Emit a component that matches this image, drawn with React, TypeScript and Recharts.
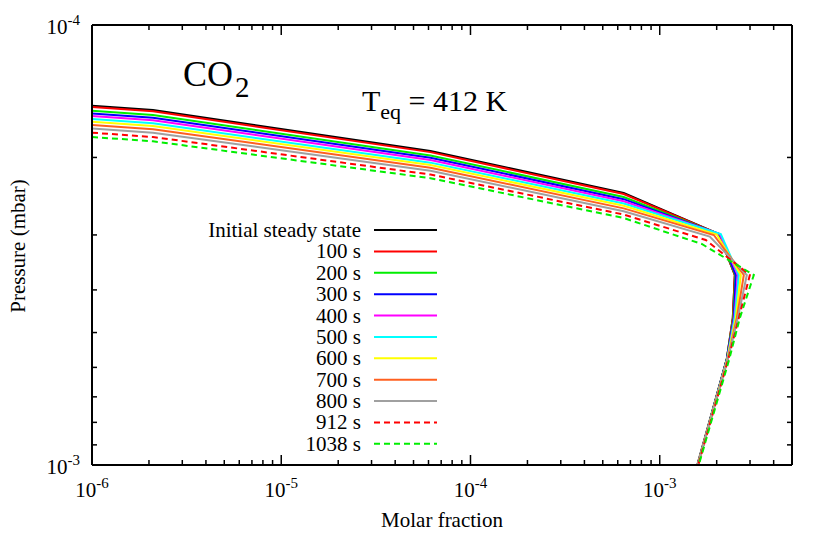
import React from 'react';
import { LineChart, Line, XAxis, YAxis, Legend } from 'recharts';

const FONT = "'Liberation Serif', Tinos, 'Times New Roman', Times, 'DejaVu Serif', serif";

// Molar fraction (x) and pressure in mbar (p) for each profile
const X_INIT = [1e-6, 2.1e-6, 6.14e-5, 6.45e-4, 2.052e-3, 2.493e-3, 2.433e-3, 2.262e-3, 1.579e-3];
const P_INIT = [1.525e-4, 1.56e-4, 1.934e-4, 2.409e-4, 2.985e-4, 3.7e-4, 4.634e-4, 5.742e-4, 1e-3];

const X_100 = [1e-6, 2.1e-6, 6.14e-5, 6.45e-4, 2.052e-3, 2.493e-3, 2.433e-3, 2.262e-3, 1.589e-3];
const P_100 = [1.536e-4, 1.571e-4, 1.945e-4, 2.422e-4, 2.985e-4, 3.7e-4, 4.634e-4, 5.742e-4, 1e-3];

const X_200 = [1e-6, 2.1e-6, 6.14e-5, 6.45e-4, 2.052e-3, 2.509e-3, 2.448e-3, 2.262e-3, 1.589e-3];
const P_200 = [1.566e-4, 1.602e-4, 1.979e-4, 2.46e-4, 2.985e-4, 3.7e-4, 4.634e-4, 5.742e-4, 1e-3];

const X_300 = [1e-6, 2.1e-6, 6.14e-5, 6.45e-4, 2.065e-3, 2.524e-3, 2.463e-3, 2.262e-3, 1.589e-3];
const P_300 = [1.588e-4, 1.624e-4, 2.003e-4, 2.488e-4, 2.985e-4, 3.7e-4, 4.634e-4, 5.742e-4, 1e-3];

const X_400 = [1e-6, 2.1e-6, 6.14e-5, 6.45e-4, 2.077e-3, 2.586e-3, 2.479e-3, 2.276e-3, 1.589e-3];
const P_400 = [1.61e-4, 1.647e-4, 2.027e-4, 2.515e-4, 2.985e-4, 3.7e-4, 4.634e-4, 5.742e-4, 1e-3];

const X_500 = [1e-6, 2.1e-6, 6.14e-5, 6.45e-4, 2.103e-3, 2.618e-3, 2.493e-3, 2.276e-3, 1.589e-3];
const P_500 = [1.636e-4, 1.673e-4, 2.055e-4, 2.546e-4, 2.985e-4, 3.7e-4, 4.634e-4, 5.742e-4, 1e-3];

const X_600 = [1e-6, 2.1e-6, 6.14e-5, 6.45e-4, 2.003e-3, 2.683e-3, 2.524e-3, 2.276e-3, 1.589e-3];
const P_600 = [1.659e-4, 1.697e-4, 2.08e-4, 2.576e-4, 2.993e-4, 3.7e-4, 4.634e-4, 5.742e-4, 1e-3];

const X_700 = [1e-6, 2.1e-6, 6.14e-5, 6.45e-4, 1.931e-3, 2.782e-3, 2.555e-3, 2.29e-3, 1.589e-3];
const P_700 = [1.688e-4, 1.726e-4, 2.111e-4, 2.611e-4, 3.001e-4, 3.7e-4, 4.634e-4, 5.742e-4, 1e-3];

const X_800 = [1e-6, 2.1e-6, 6.14e-5, 6.45e-4, 1.839e-3, 2.886e-3, 2.586e-3, 2.29e-3, 1.589e-3];
const P_800 = [1.718e-4, 1.757e-4, 2.144e-4, 2.65e-4, 3.025e-4, 3.7e-4, 4.634e-4, 5.742e-4, 1e-3];

const X_912 = [1e-6, 2.1e-6, 6.14e-5, 6.45e-4, 1.751e-3, 2.994e-3, 2.618e-3, 2.304e-3, 1.598e-3];
const P_912 = [1.757e-4, 1.797e-4, 2.187e-4, 2.697e-4, 3.081e-4, 3.7e-4, 4.634e-4, 5.742e-4, 1e-3];

const X_1038 = [1e-6, 2.1e-6, 6.14e-5, 6.45e-4, 1.668e-3, 3.143e-3, 2.65e-3, 2.332e-3, 1.608e-3];
const P_1038 = [1.797e-4, 1.838e-4, 2.229e-4, 2.746e-4, 3.146e-4, 3.7e-4, 4.634e-4, 5.742e-4, 1e-3];

const SERIES_NAMES = ['Initial steady state', '100 s', '200 s', '300 s', '400 s', '500 s', '600 s', '700 s', '800 s', '912 s', '1038 s'];
const SERIES_COLORS = ['#000000', '#ff0000', '#00ee00', '#0000ff', '#ff00ff', '#00ffff', '#ffff00', '#ff6020', '#a0a0a0', '#ff0000', '#00ee00'];
const SERIES_DASHED = [false, false, false, false, false, false, false, false, false, true, true];
const SERIES_X = [X_INIT, X_100, X_200, X_300, X_400, X_500, X_600, X_700, X_800, X_912, X_1038];
const SERIES_P = [P_INIT, P_100, P_200, P_300, P_400, P_500, P_600, P_700, P_800, P_912, P_1038];

const X_DOMAIN = [1e-6, 5e-3];
const Y_DOMAIN = [1e-4, 1e-3];
const X_MAJOR = [1e-6, 1e-5, 1e-4, 1e-3];
const X_MINOR = [2e-6, 3e-6, 4e-6, 5e-6, 6e-6, 7e-6, 8e-6, 9e-6, 2e-5, 3e-5, 4e-5, 5e-5, 6e-5, 7e-5, 8e-5, 9e-5, 2e-4, 3e-4, 4e-4, 5e-4, 6e-4, 7e-4, 8e-4, 9e-4, 2e-3, 3e-3, 4e-3];
const Y_MAJOR = [1e-4, 1e-3];
const Y_MINOR = [2e-4, 3e-4, 4e-4, 5e-4, 6e-4, 7e-4, 8e-4, 9e-4];

const X_TICKS = [...X_MAJOR, ...X_MINOR].sort((a, b) => a - b);
const Y_TICKS = [...Y_MAJOR, ...Y_MINOR].sort((a, b) => a - b);

const SERIES = SERIES_NAMES.map((name, i) => ({
  name,
  color: SERIES_COLORS[i],
  dash: SERIES_DASHED[i] ? '6 4' : undefined,
  data: SERIES_X[i].map((x, j) => ({ x, p: SERIES_P[i][j] })),
}));

const isMajor = (v: number, majors: number[]) => majors.some((m) => Math.abs(v / m - 1) < 1e-6);
const expOf = (v: number) => String(Math.round(Math.log10(v)));

const MAJOR_LEN = 10;
const MINOR_LEN = 5;
const TXT = { fontFamily: FONT };

const Pow = ({ x, y, v, anchor }: { x: number; y: number; v: number; anchor: string }) => (
  <text x={x} y={y} textAnchor={anchor} style={TXT} fontSize={21} fill="#000">
    <tspan>10</tspan>
    <tspan dy={-9} fontSize={15}>{expOf(v)}</tspan>
  </text>
);

const BottomTick = (props: any) => {
  const { x, y, payload } = props;
  const major = isMajor(payload.value, X_MAJOR);
  return (
    <g>
      <line x1={x} y1={y} x2={x} y2={y - (major ? MAJOR_LEN : MINOR_LEN)} stroke="#000" strokeWidth={1.5} />
      {major && <Pow x={x} y={y + 32} v={payload.value} anchor="middle" />}
    </g>
  );
};

const TopTick = (props: any) => {
  const { x, y, payload } = props;
  const major = isMajor(payload.value, X_MAJOR);
  return <line x1={x} y1={y} x2={x} y2={y + (major ? MAJOR_LEN : MINOR_LEN)} stroke="#000" strokeWidth={1.5} />;
};

const LeftTick = (props: any) => {
  const { x, y, payload } = props;
  const major = isMajor(payload.value, Y_MAJOR);
  return (
    <g>
      <line x1={x} y1={y} x2={x + (major ? MAJOR_LEN : MINOR_LEN)} y2={y} stroke="#000" strokeWidth={1.5} />
      {major && <Pow x={x - 12} y={y + 9} v={payload.value} anchor="end" />}
    </g>
  );
};

const RightTick = (props: any) => {
  const { x, y, payload } = props;
  const major = isMajor(payload.value, Y_MAJOR);
  return <line x1={x} y1={y} x2={x - (major ? MAJOR_LEN : MINOR_LEN)} y2={y} stroke="#000" strokeWidth={1.5} />;
};

const LEGEND_TOP = 230;
const LEGEND_STEP = 21.38;

const renderLegend = () => (
  <svg width={830} height={534} style={{ position: 'absolute', left: 0, top: 0 }}>
    {SERIES.map((s, i) => {
      const cy = LEGEND_TOP + i * LEGEND_STEP;
      return (
        <g key={s.name}>
          <text x={361} y={cy + 7} textAnchor="end" style={TXT} fontSize={21} fill="#000">
            {s.name}
          </text>
          <line x1={374} x2={437} y1={cy} y2={cy} stroke={s.color} strokeWidth={2} strokeDasharray={s.dash} />
        </g>
      );
    })}
  </svg>
);

export default function App() {
  return (
    <div style={{ position: 'absolute', left: 0, top: 0, width: 830, height: 534, background: '#fff', fontFamily: FONT }}>
      <LineChart width={830} height={534} margin={{ top: 20, right: 33, bottom: 29, left: 32 }}>
        <XAxis
          xAxisId="b"
          dataKey="x"
          type="number"
          scale="log"
          domain={X_DOMAIN}
          allowDataOverflow
          ticks={X_TICKS}
          interval={0}
          tickSize={0}
          tickMargin={0}
          tick={<BottomTick />}
          axisLine={{ stroke: '#000', strokeWidth: 2 }}
          height={40}
          orientation="bottom"
        />
        <XAxis
          xAxisId="t"
          dataKey="x"
          type="number"
          scale="log"
          domain={X_DOMAIN}
          allowDataOverflow
          ticks={X_TICKS}
          interval={0}
          tickSize={0}
          tickMargin={0}
          tick={<TopTick />}
          axisLine={{ stroke: '#000', strokeWidth: 2 }}
          height={5}
          orientation="top"
        />
        <YAxis
          yAxisId="l"
          type="number"
          scale="log"
          domain={Y_DOMAIN}
          allowDataOverflow
          reversed
          ticks={Y_TICKS}
          interval={0}
          tickSize={0}
          tickMargin={0}
          tick={<LeftTick />}
          axisLine={{ stroke: '#000', strokeWidth: 2 }}
          width={60}
          orientation="left"
        />
        <YAxis
          yAxisId="r"
          type="number"
          scale="log"
          domain={Y_DOMAIN}
          allowDataOverflow
          reversed
          ticks={Y_TICKS}
          interval={0}
          tickSize={0}
          tickMargin={0}
          tick={<RightTick />}
          axisLine={{ stroke: '#000', strokeWidth: 2 }}
          width={5}
          orientation="right"
        />
        {SERIES.map((s) => (
          <Line
            key={s.name}
            name={s.name}
            xAxisId="b"
            yAxisId="l"
            data={s.data}
            dataKey="p"
            type="linear"
            stroke={s.color}
            strokeWidth={2}
            strokeDasharray={s.dash}
            dot={false}
            activeDot={false}
            isAnimationActive={false}
          />
        ))}
        <Legend
          layout="vertical"
          align="center"
          verticalAlign="middle"
          width={830}
          height={534}
          wrapperStyle={{ left: 0, top: 0, width: 830, height: 534, pointerEvents: 'none' }}
          content={renderLegend}
        />
      </LineChart>
      <svg width={830} height={534} style={{ position: 'absolute', left: 0, top: 0, pointerEvents: 'none' }}>
        <text x={183} y={86} style={TXT} fontSize={36} fill="#000">
          <tspan>CO</tspan>
          <tspan dx={2} dy={11} fontSize={29}>2</tspan>
        </text>
        <text x={362} y={111} style={TXT} fontSize={30} fill="#000">
          <tspan>T</tspan>
          <tspan dy={8} fontSize={22}>eq</tspan>
          <tspan dy={-8}> = 412 K</tspan>
        </text>
        <text
          x={25}
          y={246}
          transform="rotate(-90 25 246)"
          textAnchor="middle"
          style={TXT}
          fontSize={21}
          fill="#000"
        >
          Pressure (mbar)
        </text>
        <text x={442} y={527} textAnchor="middle" style={TXT} fontSize={21} fill="#000">
          Molar fraction
        </text>
      </svg>
    </div>
  );
}
